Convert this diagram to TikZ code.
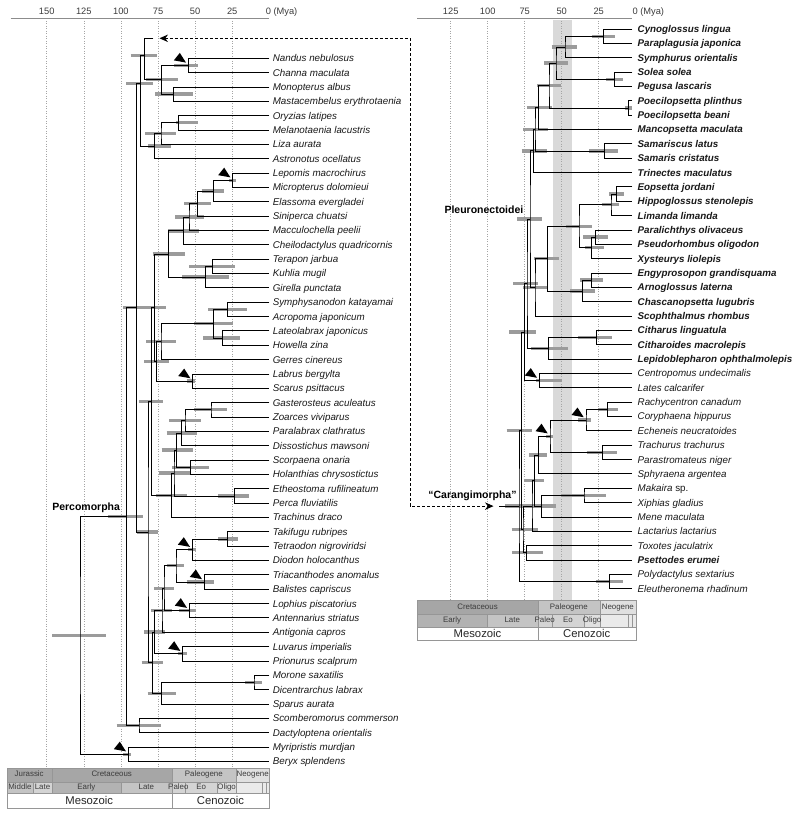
\documentclass[tikz,border=0pt]{standalone}
\usepackage{fontspec}
\setmainfont{Liberation Sans}
\usetikzlibrary{arrows.meta,calc}
\definecolor{hpdgray}{RGB}{155,155,155}
\definecolor{bandgray}{RGB}{217,217,217}
\definecolor{gridgray}{RGB}{165,165,165}
\definecolor{axisgray}{RGB}{140,140,140}
\definecolor{inkgray}{RGB}{60,60,60}
\definecolor{tsline}{RGB}{150,150,150}
\definecolor{tsA}{RGB}{166,166,166}
\definecolor{tsB}{RGB}{178,178,178}
\definecolor{tsC}{RGB}{196,196,196}
\definecolor{tsD}{RGB}{212,212,212}
\definecolor{tsE}{RGB}{224,224,224}
\definecolor{tsF}{RGB}{234,234,234}
\pgfdeclarelayer{back}
\pgfdeclarelayer{bars}
\pgfsetlayers{back,bars,main}

\newcommand\clade[6]{%
  \coordinate (#1m) at ($(#3)!.5!(#4)$);
  \coordinate (#1) at (#2,0 |- #1m);
  \begin{pgfonlayer}{bars}\draw[hpd] (#5,0 |- #1) -- (#6,0 |- #1);\end{pgfonlayer}
  \draw[branch] (#3) -| (#1) |- (#4);}
\newcommand\cladey[7]{%
  \coordinate (#1) at (#2,#3);
  \begin{pgfonlayer}{bars}\draw[hpd] (#6,0 |- #1) -- (#7,0 |- #1);\end{pgfonlayer}
  \draw[branch] (#4) -| (#1) |- (#5);}
\newcommand\fossil[1]{\fill[black] ($(#1)+(-8.5,-12.5)$) -- ++(-6,7.5) -- ++(12.2,2.2) -- cycle;}
\newcommand\tscell[6]{%
  \begin{pgfonlayer}{bars}\filldraw[tscell,fill=#5] (#1,#2) rectangle (#3,#4);\end{pgfonlayer}
  \node[tstext] at ($(#1,#2)!.5!(#3,#4)$) {#6};}
\newcommand\eracell[5]{%
  \begin{pgfonlayer}{bars}\filldraw[tscell,fill=white] (#1,#2) rectangle (#3,#4);\end{pgfonlayer}
  \node[eratext] at ($(#1,#2)!.5!(#3,#4)$) {#5};}
\newcommand\bfit[1]{{\bfseries #1}}

\begin{document}
\begin{tikzpicture}[x=1pt,y=-1pt,
  branch/.style={draw=black,line width=0.75pt},
  hpd/.style={draw=hpdgray,line width=3.3pt},
  taxon/.style={anchor=base west,inner sep=0pt,font=\fontsize{9.8}{11}\selectfont\itshape,text=black!90},
  tick/.style={anchor=base,inner sep=0pt,font=\fontsize{9.3}{10}\selectfont,text=inkgray},
  cladelab/.style={anchor=base east,inner sep=0pt,font=\fontsize{10.5}{12}\selectfont\bfseries},
  grid/.style={draw=gridgray,line width=0.5pt,dash pattern=on 0.8pt off 1.7pt},
  tscell/.style={draw=tsline,line width=0.4pt},
  tstext/.style={inner sep=0pt,font=\fontsize{7.9}{9}\selectfont,text=inkgray,text height=5.6pt,text depth=1.4pt},
  eratext/.style={inner sep=0pt,font=\fontsize{11.3}{12}\selectfont,text=black!85,text height=8.1pt,text depth=0.4pt},
  carlink/.style={draw=black,line width=0.9pt,dash pattern=on 3pt off 2pt,
    arrows={Stealth[length=8.5pt,width=7.5pt]-Stealth[length=8.5pt,width=7.5pt]}}]
\useasboundingbox (0,0) rectangle (800,816);
\begin{pgfonlayer}{back}
  \fill[white] (0,0) rectangle (800,816);
  \fill[bandgray] (553,20) rectangle (572,600);
  \foreach \age in {25,50,...,150}
    \draw[grid] ({269.3-1.484*\age},21) -- ({269.3-1.484*\age},767.7);
  \foreach \age in {25,50,...,125}
    \draw[grid] ({635.7-1.48*\age},21) -- ({635.7-1.48*\age},600);
\end{pgfonlayer}

% time axes
\draw[axisgray,line width=0.8pt] (10.7,18.7) -- (269.3,18.7);
\foreach \age in {25,50,...,150}
  \node[tick] at ({269.3-1.484*\age},15) {\age};
\node[tick,anchor=base west] at (265.6,15) {0 (Mya)};
\draw[axisgray,line width=0.8pt] (417.3,18.7) -- (632.3,18.7);
\foreach \age in {25,50,...,125}
  \node[tick] at ({635.7-1.48*\age},15) {\age};
\node[tick,anchor=base west] at (632.3,15) {0 (Mya)};

% tips
\foreach \taxname [count=\i from 0] in {Nandus nebulosus,Channa maculata,Monopterus albus,
  Mastacembelus erythrotaenia,Oryzias latipes,Melanotaenia lacustris,Liza aurata,
  Astronotus ocellatus,Lepomis macrochirus,Micropterus dolomieui,Elassoma evergladei,
  Siniperca chuatsi,Macculochella peelii,Cheilodactylus quadricornis,Terapon jarbua,
  Kuhlia mugil,Girella punctata,Symphysanodon katayamai,Acropoma japonicum,
  Lateolabrax japonicus,Howella zina,Gerres cinereus,Labrus bergylta,Scarus psittacus,
  Gasterosteus aculeatus,Zoarces viviparus,Paralabrax clathratus,Dissostichus mawsoni,
  Scorpaena onaria,Holanthias chrysostictus,Etheostoma rufilineatum,Perca fluviatilis,
  Trachinus draco,Takifugu rubripes,Tetraodon nigroviridsi,Diodon holocanthus,
  Triacanthodes anomalus,Balistes capriscus,Lophius piscatorius,Antennarius striatus,
  Antigonia capros,Luvarus imperialis,Prionurus scalprum,Morone saxatilis,
  Dicentrarchus labrax,Sparus aurata,Scomberomorus commerson,Dactyloptena orientalis,
  Myripristis murdjan,Beryx splendens}{
  \coordinate (a\i) at (269.3,{58.2+14.35*\i});
  \node[taxon] (ta\i) at ($(a\i)+(3.3,3.5)$) {\taxname};}
\foreach \taxname [count=\i from 0] in {\bfit{Cynoglossus lingua},\bfit{Paraplagusia japonica},
  \bfit{Symphurus orientalis},\bfit{Solea solea},\bfit{Pegusa lascaris},
  \bfit{Poecilopsetta plinthus},\bfit{Poecilopsetta beani},\bfit{Mancopsetta maculata},
  \bfit{Samariscus latus},\bfit{Samaris cristatus},\bfit{Trinectes maculatus},
  \bfit{Eopsetta jordani},\bfit{Hippoglossus stenolepis},\bfit{Limanda limanda},
  \bfit{Paralichthys olivaceus},\bfit{Pseudorhombus oligodon},\bfit{Xysteurys liolepis},
  \bfit{Engyprosopon grandisquama},\bfit{Arnoglossus laterna},\bfit{Chascanopsetta lugubris},
  \bfit{Scophthalmus rhombus},\bfit{Citharus linguatula},\bfit{Citharoides macrolepis},
  \bfit{Lepidoblepharon ophthalmolepis},Centropomus undecimalis,Lates calcarifer,
  Rachycentron canadum,Coryphaena hippurus,Echeneis neucratoides,Trachurus trachurus,
  Parastromateus niger,Sphyraena argentea,Makaira \textup{sp.},Xiphias gladius,
  Mene maculata,Lactarius lactarius,Toxotes jaculatrix,\bfit{Psettodes erumei},
  Polydactylus sextarius,Eleutheronema rhadinum}{
  \coordinate (b\i) at (632.3,{29+14.35*\i});
  \node[taxon] (tb\i) at ($(b\i)+(5.2,3.5)$) {\taxname};}

% Percomorpha tree
\clade{nandchan}{188.3}{a0}{a1}{174}{198}
\clade{monmast}{173.3}{a2}{a3}{155}{192.7}
\clade{anabant}{161.7}{nandchan}{monmast}{145.7}{177.7}
\coordinate (topstub) at (153.3,38.3);
\cladey{carjoin}{144.3}{55.7}{topstub}{anabant}{130.7}{156.7}
\clade{orymel}{178.7}{a4}{a5}{176}{198}
\clade{oryliza}{161}{orymel}{a6}{145}{176.3}
\clade{ovalent}{154.3}{oryliza}{a7}{148}{170.7}
\cladey{ovjoin}{140.7}{83.3}{carjoin}{ovalent}{126}{153.3}
\clade{lepmic}{232.7}{a8}{a9}{229}{236}
\clade{elass}{213.3}{lepmic}{a10}{201.7}{224}
\clade{sinip}{197.7}{elass}{a11}{184}{210.7}
\clade{maccul}{189}{sinip}{a12}{175}{204}
\clade{cheilo}{183.3}{maccul}{a13}{168.3}{199}
\clade{terkuh}{212.3}{a14}{a15}{189.3}{235}
\clade{tergir}{205.7}{terkuh}{a16}{182}{228.5}
\clade{centrar}{168.5}{cheilo}{tergir}{152.7}{185}
\clade{symacr}{227.7}{a17}{a18}{208.3}{246.7}
\clade{latehow}{222.7}{a19}{a20}{203.3}{240}
\clade{acropo}{213.3}{symacr}{latehow}{194.3}{233.3}
\clade{gerres}{161}{acropo}{a21}{146}{175.7}
\clade{labscar}{192.7}{a22}{a23}{186.7}{195}
\clade{labgrp}{156.7}{gerres}{labscar}{144.3}{169}
\clade{eupA}{154.3}{centrar}{labgrp}{142}{166}
\clade{gaszoa}{211}{a24}{a25}{194.3}{227.3}
\clade{paral}{185}{gaszoa}{a26}{169.3}{201}
\clade{dissost}{181.7}{paral}{a27}{166.7}{196.7}
\clade{scohol}{190.7}{a28}{a29}{172.3}{209}
\clade{perciA}{176.5}{dissost}{scohol}{161.7}{192.5}
\clade{ethper}{234.3}{a30}{a31}{218.3}{249.3}
\clade{perciB}{174}{perciA}{ethper}{159.3}{190}
\clade{perciC}{171.7}{perciB}{a32}{156}{187.3}
\clade{eupB}{151.7}{eupA}{perciC}{139.3}{163.3}
\clade{takte}{227.7}{a33}{a34}{218.3}{238.3}
\clade{diodon}{192.3}{takte}{a35}{188.3}{195.7}
\clade{tribal}{204.3}{a36}{a37}{186.7}{214.3}
\clade{tetraod}{176}{diodon}{tribal}{166.7}{184.3}
\clade{lophant}{189.3}{a38}{a39}{179.3}{195.7}
\clade{tetlop}{164}{tetraod}{lophant}{154}{174}
\clade{antig}{162}{tetlop}{a40}{151}{172}
\clade{luvpri}{182.7}{a41}{a42}{177.7}{186.7}
\clade{acanA}{154.5}{antig}{luvpri}{144}{164.5}
\clade{mordic}{254}{a43}{a44}{245}{261.7}
\clade{sparus}{161.7}{mordic}{a45}{147.7}{175.7}
\clade{acanB}{152.5}{acanA}{sparus}{141.7}{163.3}
\clade{eupC}{148}{eupB}{acanB}{136.7}{158.3}
\clade{eupD}{136.7}{ovjoin}{eupC}{122.7}{150}
\clade{scodac}{139}{a46}{a47}{116.7}{160.7}
\clade{percom}{126.7}{eupD}{scodac}{108.3}{142.7}
\clade{myrber}{128.3}{a48}{a49}{123.3}{131}
\clade{rootL}{80}{percom}{myrber}{52.3}{105.7}

% Carangimorpha tree
\clade{cynpar}{603.3}{b0}{b1}{591.7}{615}
\clade{symph}{565}{cynpar}{b2}{551.7}{577.3}
\clade{solpeg}{614.3}{b3}{b4}{606}{623.3}
\clade{soleoid}{556}{symph}{solpeg}{544}{567.7}
\clade{poecil}{628.3}{b5}{b6}{625}{631.5}
\clade{pleuA}{549}{soleoid}{poecil}{537.3}{561}
\clade{pleuB}{538.3}{pleuA}{b7}{526.7}{551.7}
\clade{samar}{604.3}{b8}{b9}{589}{618.3}
\clade{pleuC}{535}{pleuB}{samar}{523.3}{548.3}
\clade{pleuD}{533.3}{pleuC}{b10}{521.7}{546.7}
\clade{eophip}{616.7}{b11}{b12}{609.3}{624.3}
\clade{limanda}{611}{eophip}{b13}{601.7}{619.3}
\clade{parpse}{595.7}{b14}{b15}{583.3}{607.7}
\clade{xysteu}{591.7}{parpse}{b16}{585}{604}
\clade{pleuE}{579}{limanda}{xysteu}{566}{591.7}
\clade{engarn}{591.7}{b17}{b18}{580}{602.7}
\clade{chascan}{582.7}{engarn}{b19}{570}{595}
\clade{pleuF}{547.3}{pleuE}{chascan}{534}{559}
\clade{pleuG}{535}{pleuF}{b20}{523.3}{546.7}
\clade{pleuH}{530}{pleuD}{pleuG}{517.3}{541.7}
\clade{citcit}{596.7}{b21}{b22}{578.3}{611.7}
\clade{citlep}{548.3}{citcit}{b23}{531}{567.7}
\clade{pleuro}{527}{pleuH}{citlep}{513.3}{538.3}
\clade{cenlat}{539.3}{b24}{b25}{536}{562.3}
\clade{carA}{524.3}{pleuro}{cenlat}{509.3}{536}
\clade{racor}{607.7}{b26}{b27}{598.3}{618.3}
\clade{echen}{586}{racor}{b28}{578.3}{590.7}
\clade{trapar}{602.7}{b29}{b30}{586.7}{617.3}
\clade{carang}{550}{echen}{trapar}{546}{552.7}
\clade{sphyr}{538.3}{carang}{b31}{529.3}{547.3}
\clade{makxip}{584}{b32}{b33}{560.7}{606}
\clade{mene}{541.7}{makxip}{b34}{526.7}{556}
\clade{carB}{534.3}{sphyr}{mene}{524}{544}
\clade{lactar}{532}{carB}{b35}{518}{545}
\clade{toxpse}{526.7}{b36}{b37}{512.3}{542.7}
\clade{carC}{523}{lactar}{toxpse}{511.7}{537.7}
\clade{carD}{521.5}{carA}{carC}{506.7}{531.7}
\clade{polele}{609.3}{b38}{b39}{596}{622.7}
\clade{carroot}{519}{carD}{polele}{505}{535}
\coordinate (carstem) at (499.3,0 |- carroot);
\draw[branch] (carstem) -- (carroot);

% calibrations
\foreach \cal in {nandchan,lepmic,labscar,diodon,tribal,lophant,luvpri,myrber,cenlat,echen,carang}
  {\fossil{\cal}}

% clade names and link
\node[cladelab] (percolab) at ($(percom)+(-6.5,-5.8)$) {Percomorpha};
\node[cladelab] (pleurolab) at ($(pleuH)+(-6.5,-5.8)$) {Pleuronectoidei};
\node[cladelab] (carlab) at ($(carroot)+(-2.3,-7.8)$) {“Carangimorpha”};
\coordinate (arrL) at ($(topstub)+(6.2,0)$);
\coordinate (arrR) at ($(carstem)+(-5.8,0)$);
\draw[carlink] (arrL) -- ++(250.5,0) |- (arrR);

% time scales
\tscell{6.7}{767.7}{51.7}{781.7}{tsA}{Jurassic}
\tscell{51.7}{767.7}{171.7}{781.7}{tsA}{Cretaceous}
\tscell{171.7}{767.7}{236}{781.7}{tsC}{Paleogene}
\tscell{236}{767.7}{269.3}{781.7}{tsE}{Neogene}
\tscell{6.7}{781.7}{33.3}{793.3}{tsC}{Middle}
\tscell{33.3}{781.7}{51.7}{793.3}{tsD}{Late}
\tscell{51.7}{781.7}{121}{793.3}{tsB}{Early}
\tscell{121}{781.7}{171.7}{793.3}{tsC}{Late}
\tscell{171.7}{781.7}{185}{793.3}{tsD}{Paleo}
\tscell{185}{781.7}{217.3}{793.3}{tsD}{Eo}
\tscell{217.3}{781.7}{236}{793.3}{tsE}{Oligo}
\tscell{236}{781.7}{261.7}{793.3}{tsF}{}
\tscell{261.7}{781.7}{265.7}{793.3}{tsF}{}
\tscell{265.7}{781.7}{269.3}{793.3}{tsF}{}
\eracell{6.7}{793.3}{171.7}{808.3}{Mesozoic}
\eracell{171.7}{793.3}{269.3}{808.3}{Cenozoic}
\tscell{417.3}{600}{537.7}{614}{tsA}{Cretaceous}
\tscell{537.7}{600}{600}{614}{tsC}{Paleogene}
\tscell{600}{600}{635.7}{614}{tsE}{Neogene}
\tscell{417.3}{614}{486.7}{627.3}{tsB}{Early}
\tscell{486.7}{614}{537.7}{627.3}{tsC}{Late}
\tscell{537.7}{614}{551.7}{627.3}{tsD}{Paleo}
\tscell{551.7}{614}{584.3}{627.3}{tsD}{Eo}
\tscell{584.3}{614}{600}{627.3}{tsE}{Oligo}
\tscell{600}{614}{628.3}{627.3}{tsF}{}
\tscell{628.3}{614}{631.7}{627.3}{tsF}{}
\tscell{631.7}{614}{635.7}{627.3}{tsF}{}
\eracell{417.3}{627.3}{537.7}{640}{Mesozoic}
\eracell{537.7}{627.3}{635.7}{640}{Cenozoic}
\end{tikzpicture}
\end{document}
